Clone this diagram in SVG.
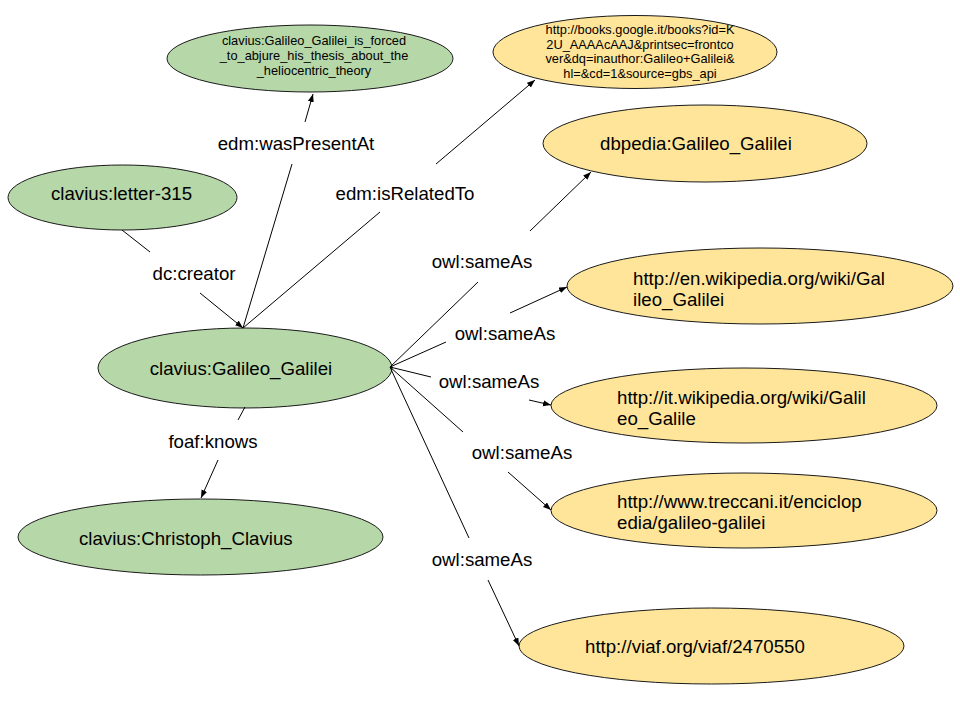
<svg xmlns="http://www.w3.org/2000/svg" width="960" height="720" viewBox="0 0 960 720">
<defs>
<style>
.g{fill:#b6d7a8;stroke:#1a1a1a;stroke-width:1}
.y{fill:#ffe599;stroke:#1a1a1a;stroke-width:1}
.t{font-family:"Liberation Sans",Arial,sans-serif;font-size:18.67px;fill:#000}
.s{font-family:"Liberation Sans",Arial,sans-serif;font-size:12.8px;fill:#000;text-anchor:middle}
.m{text-anchor:middle}
.c{fill:none;stroke:#000;stroke-width:1;marker-end:url(#a)}
</style>
<marker id="a" markerUnits="userSpaceOnUse" markerWidth="9" markerHeight="7" refX="8" refY="3" orient="auto">
<path d="M0,0 L8,3 L0,6 z" fill="#000"/>
</marker>
</defs>
<rect width="960" height="720" fill="#fff"/>
<g id="n-forced">
<ellipse class="g" cx="310" cy="58.5" rx="143" ry="33.5"/>
<text class="s" x="314" y="45">clavius:Galileo_Galilei_is_forced</text>
<text class="s" x="314" y="60">_to_abjure_his_thesis_about_the</text>
<text class="s" x="314" y="75">_heliocentric_theory</text>
</g>
<g id="n-books">
<ellipse class="y" cx="635" cy="52" rx="142" ry="36.5"/>
<text class="s" x="640" y="34">http://books.google.it/books?id=K</text>
<text class="s" x="640" y="48.5">2U_AAAAcAAJ&amp;printsec=frontco</text>
<text class="s" x="640" y="63">ver&amp;dq=inauthor:Galileo+Galilei&amp;</text>
<text class="s" x="640" y="77.5">hl=&amp;cd=1&amp;source=gbs_api</text>
</g>
<g id="n-letter">
<ellipse class="g" cx="122.5" cy="197.5" rx="114.5" ry="32.5"/>
<text class="t m" x="121.5" y="200">clavius:letter-315</text>
</g>
<g id="n-galileo">
<ellipse class="g" cx="245" cy="368" rx="147" ry="40"/>
<text class="t m" x="241" y="375">clavius:Galileo_Galilei</text>
</g>
<g id="n-clavius">
<ellipse class="g" cx="200.5" cy="537" rx="182.5" ry="38"/>
<text class="t" x="79" y="545">clavius:Christoph_Clavius</text>
</g>
<g id="n-dbpedia">
<ellipse class="y" cx="705" cy="143.5" rx="162" ry="38.5"/>
<text class="t" x="600" y="150">dbpedia:Galileo_Galilei</text>
</g>
<g id="n-enwiki">
<ellipse class="y" cx="760" cy="286" rx="193" ry="38"/>
<text class="t" x="633" y="284.5">http://en.wikipedia.org/wiki/Gal</text>
<text class="t" x="633" y="305.5">ileo_Galilei</text>
</g>
<g id="n-itwiki">
<ellipse class="y" cx="744" cy="405.5" rx="193" ry="37.5"/>
<text class="t" x="617" y="403.5">http://it.wikipedia.org/wiki/Galil</text>
<text class="t" x="617" y="424.5">eo_Galile</text>
</g>
<g id="n-treccani">
<ellipse class="y" cx="744" cy="510.5" rx="193" ry="37.5"/>
<text class="t" x="617" y="508">http://www.treccani.it/enciclop</text>
<text class="t" x="617" y="529">edia/galileo-galilei</text>
</g>
<g id="n-viaf">
<ellipse class="y" cx="711.5" cy="646" rx="192.5" ry="38"/>
<text class="t" x="585" y="653">http://viaf.org/viaf/2470550</text>
</g>
<g id="connectors">
<path class="c" d="M122,230 L150,252 M200,293 L243,328"/>
<path class="c" d="M243,328 L292,164 M305,122 L313,94"/>
<path class="c" d="M243,328 L380,212 M436,164 L535,80"/>
<path class="c" d="M245,407 L238,420 M218,460 L201,498"/>
<path class="c" d="M390,367 L478,282 M530,231 L591,172"/>
<path class="c" d="M390,367 L446,342 M510,313 L567,287"/>
<path class="c" d="M390,367 L431,377 M529,400 L551,405"/>
<path class="c" d="M390,367 L463,432 M508,472 L551,510"/>
<path class="c" d="M390,367 L469,538 M488,580 L519,646"/>
<text class="t m" x="194" y="279.5">dc:creator</text>
<text class="t m" x="296" y="150">edm:wasPresentAt</text>
<text class="t m" x="405" y="200">edm:isRelatedTo</text>
<text class="t m" x="213" y="448">foaf:knows</text>
<text class="t m" x="482" y="268">owl:sameAs</text>
<text class="t m" x="505" y="340">owl:sameAs</text>
<text class="t m" x="489" y="388">owl:sameAs</text>
<text class="t m" x="522" y="459">owl:sameAs</text>
<text class="t m" x="482" y="566">owl:sameAs</text>
</g>
</svg>
